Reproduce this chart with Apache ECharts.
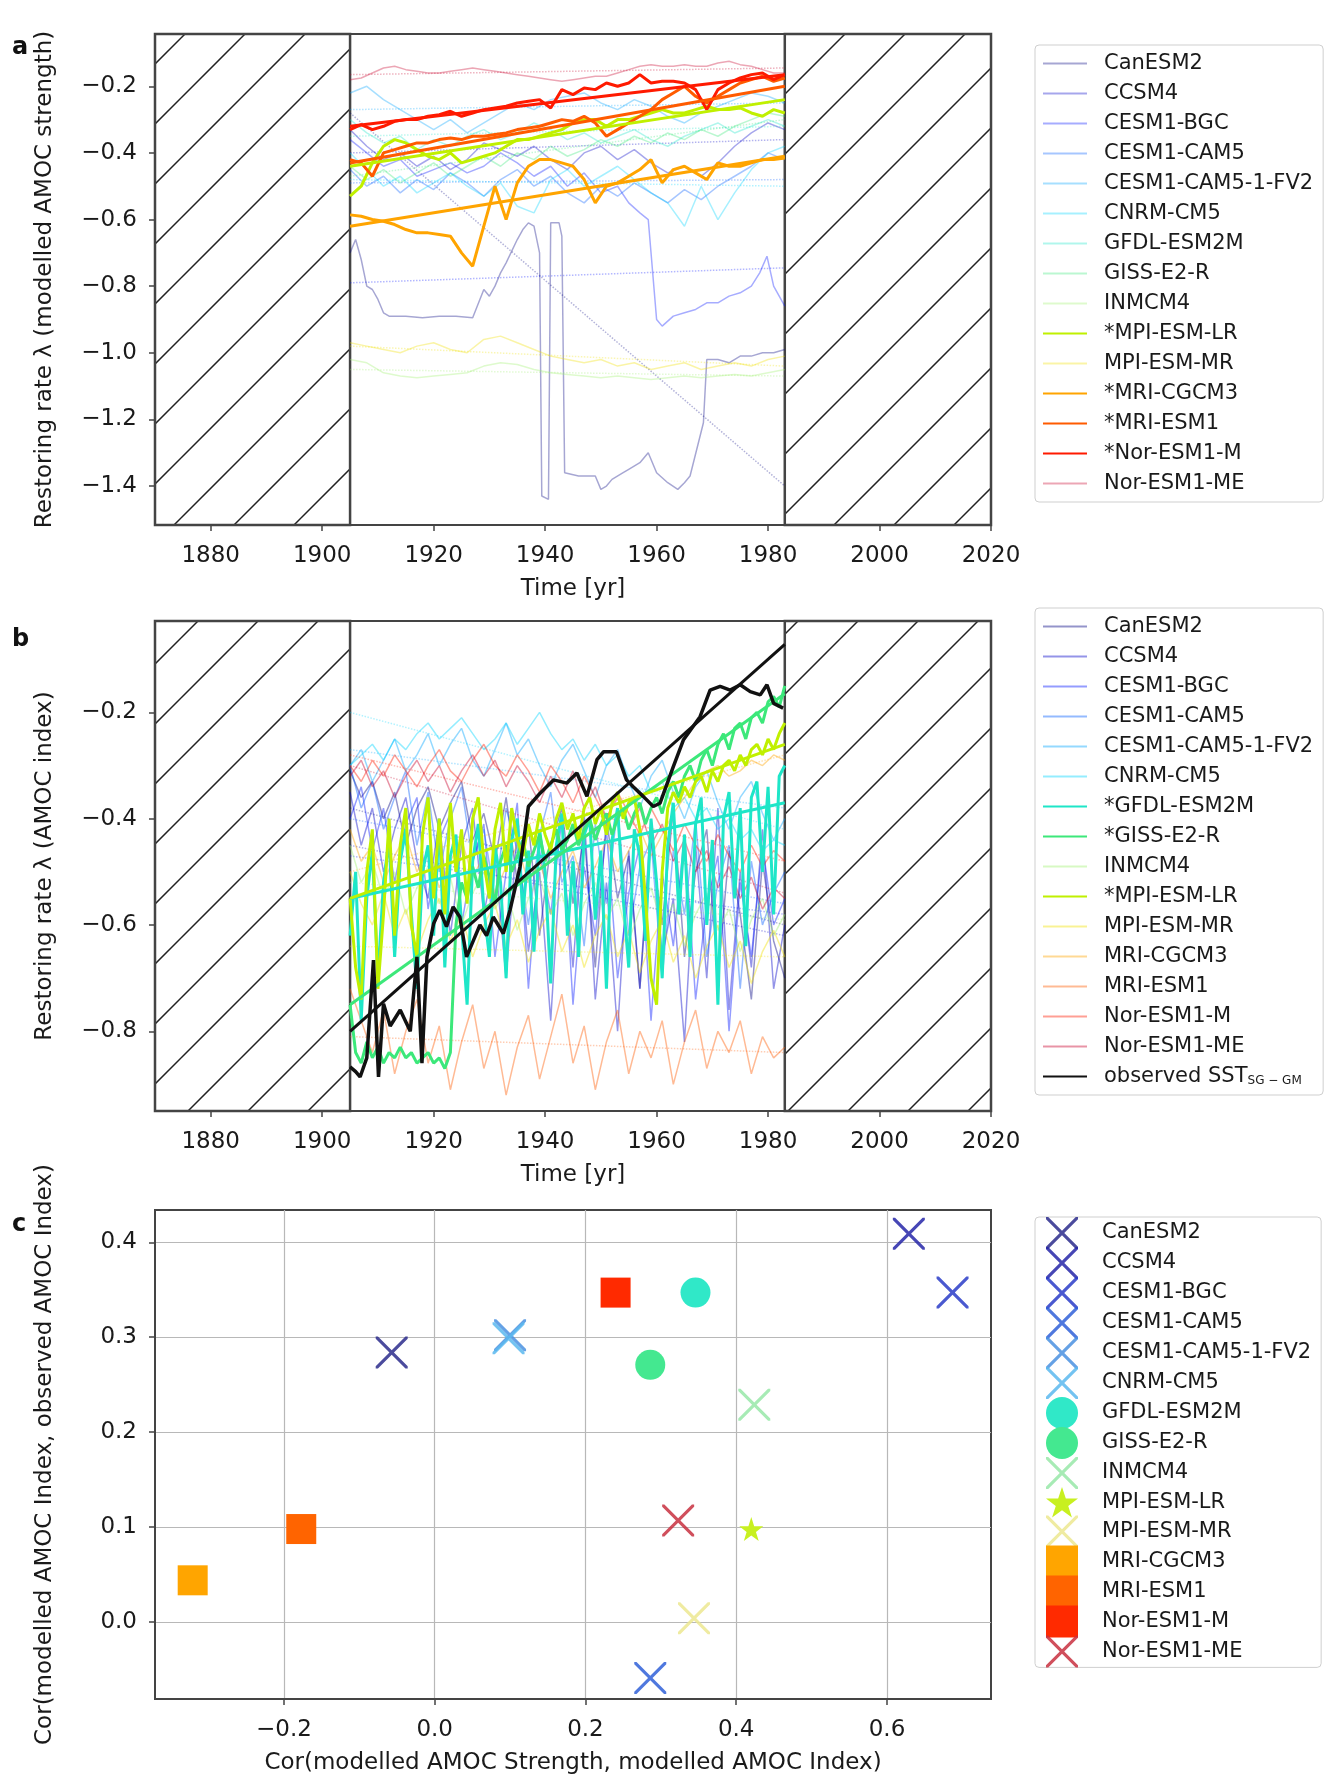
<!DOCTYPE html>
<html lang="en">
<head>
    <meta charset="UTF-8">
    <script src="https://cdn.jsdelivr.net/npm/echarts@6/dist/echarts.min.js"></script>
    <style>
        html, body { margin: 0; padding: 0; background: #fff; }
        #main { width: 1325px; height: 1775px; }
    </style>
    <title>Restoring rate</title>
</head>
<body>
    <div id="main"></div>
<script type="text/javascript">
    var models = ['CanESM2', 'CCSM4', 'CESM1-BGC', 'CESM1-CAM5', 'CESM1-CAM5-1-FV2', 'CNRM-CM5', 'GFDL-ESM2M',
        'GISS-E2-R', 'INMCM4', 'MPI-ESM-LR', 'MPI-ESM-MR', 'MRI-CGCM3', 'MRI-ESM1', 'Nor-ESM1-M', 'Nor-ESM1-ME'];
    var lineColors = ['#000080', '#0000c8', '#0012ff', '#005bff', '#00a4ff', '#00d4ff', '#1ee6c8', '#3ce87a',
        '#a0f070', '#c0f000', '#f0e000', '#ffa400', '#ff5b00', '#ff1a00', '#c8002a'];
    var markColors = ['#2c2c8c', '#2626a8', '#2a3cc8', '#3060d8', '#4a90e0', '#5ab8ee', '#30e8c8', '#44e890',
        '#98e8a8', '#c8f020', '#ece890', '#ffa500', '#ff6400', '#ff2a00', '#c83040'];
    var starredA = [9, 11, 12, 13];
    var starredB = [6, 7, 9];

    // tick labels
    var yearTicks = [1880, 1900, 1920, 1940, 1960, 1980, 2000, 2020];
    var yTicksA = [-1.4, -1.2, -1.0, -0.8, -0.6, -0.4, -0.2];
    var yTicksB = [-0.8, -0.6, -0.4, -0.2];
    var xTicksC = [-0.2, 0.0, 0.2, 0.4, 0.6];
    var yTicksC = [0.0, 0.1, 0.2, 0.3, 0.4];

    // sampling years
    var yrs1 = [1905,1906,1907,1908,1909,1910,1911,1912,1913,1914,1915,1916,1917,1918,1919,1920,1921,1922,1923,1924,
        1925,1926,1927,1928,1929,1930,1931,1932,1933,1934,1935,1936,1937,1938,1939,1940,1941,1942,1943,1944,
        1945,1946,1947,1948,1949,1950,1951,1952,1953,1954,1955,1956,1957,1958,1959,1960,1961,1962,1963,1964,
        1965,1966,1967,1968,1969,1970,1971,1972,1973,1974,1975,1976,1977,1978,1979,1980,1981,1982,1983];
    var yrs2 = [1905,1907,1909,1911,1913,1915,1917,1919,1921,1923,1925,1927,1929,1931,1933,1935,1937,1939,1941,1943,
        1945,1947,1949,1951,1953,1955,1957,1959,1961,1963,1965,1967,1969,1971,1973,1975,1977,1979,1981,1983];
    var yrs3 = [1905,1908,1911,1914,1917,1920,1923,1926,1929,1932,1935,1938,1941,1944,1947,1950,1953,1956,1959,
        1962,1965,1968,1971,1974,1977,1980,1983];
    var fitYears = [1905, 1983];

    // panel a: restoring rate of modelled AMOC strength
    var canYrsA = [1905,1906,1907,1908,1909,1910,1911,1912,1915,1918,1921,1924,1927,1929,1930,1931,1932,1933,1935,1936,
        1937,1938,1939,1939.4,1940.6,1941,1942.5,1943,1943.5,1946,1948,1949,1950,1951,1952,1954,1955,1957,1958.5,1960,
        1962,1963.8,1965,1966,1967.5,1968.4,1969,1971,1973,1975,1977,1979,1981,1983];
    var canA = [-0.70,-0.66,-0.72,-0.80,-0.81,-0.84,-0.88,-0.89,-0.89,-0.895,-0.89,-0.89,-0.895,-0.81,-0.83,-0.80,-0.76,-0.73,-0.66,-0.63,
        -0.61,-0.62,-0.70,-1.43,-1.44,-0.61,-0.61,-0.65,-1.36,-1.37,-1.37,-1.37,-1.41,-1.40,-1.38,-1.36,-1.35,-1.33,-1.30,-1.36,
        -1.39,-1.41,-1.39,-1.37,-1.27,-1.21,-1.02,-1.02,-1.03,-1.01,-1.01,-1.00,-1.00,-0.99];
    var bgcYrsA = [1905,1908,1911,1914,1917,1920,1923,1926,1929,1932,1935,1938,1941,1944,1947,1950,1953,1955,1957,1958.5,
        1960,1961,1963,1965,1967,1969,1971,1973,1975,1977,1978.5,1979.8,1981,1983];
    var bgcA = [-0.36,-0.40,-0.44,-0.42,-0.47,-0.45,-0.43,-0.46,-0.44,-0.40,-0.43,-0.47,-0.44,-0.50,-0.46,-0.52,-0.50,-0.55,-0.58,-0.60,
        -0.90,-0.92,-0.89,-0.88,-0.87,-0.85,-0.85,-0.83,-0.82,-0.80,-0.76,-0.71,-0.80,-0.86];
    var ccsmA = [-0.33,-0.38,-0.42,-0.40,-0.44,-0.41,-0.45,-0.42,-0.37,-0.39,-0.41,-0.38,-0.42,-0.45,-0.40,-0.38,-0.42,-0.39,-0.43,-0.46,-0.44,-0.47,-0.43,-0.38,-0.34,-0.31,-0.33];
    var cam5A = [-0.45,-0.50,-0.47,-0.52,-0.48,-0.51,-0.46,-0.49,-0.53,-0.48,-0.45,-0.50,-0.47,-0.52,-0.55,-0.50,-0.53,-0.49,-0.52,-0.55,-0.51,-0.54,-0.50,-0.47,-0.44,-0.40,-0.42];
    var fv2A = [-0.22,-0.20,-0.24,-0.27,-0.30,-0.33,-0.30,-0.34,-0.31,-0.28,-0.25,-0.27,-0.24,-0.23,-0.22,-0.25,-0.27,-0.24,-0.26,-0.29,-0.31,-0.28,-0.26,-0.24,-0.22,-0.23,-0.25];
    var cnrmA = [-0.40,-0.45,-0.50,-0.47,-0.52,-0.49,-0.46,-0.50,-0.53,-0.49,-0.56,-0.58,-0.48,-0.45,-0.50,-0.47,-0.44,-0.48,-0.52,-0.55,-0.62,-0.50,-0.60,-0.52,-0.45,-0.40,-0.38];
    var gfdlA = [-0.30,-0.34,-0.37,-0.35,-0.39,-0.36,-0.38,-0.35,-0.33,-0.36,-0.34,-0.31,-0.33,-0.36,-0.34,-0.37,-0.35,-0.33,-0.36,-0.38,-0.35,-0.33,-0.31,-0.34,-0.32,-0.30,-0.32];
    var gissA = [-0.44,-0.48,-0.45,-0.49,-0.46,-0.43,-0.47,-0.44,-0.41,-0.44,-0.40,-0.42,-0.38,-0.41,-0.39,-0.36,-0.38,-0.35,-0.37,-0.34,-0.36,-0.33,-0.35,-0.32,-0.30,-0.28,-0.29];
    var inmA = [-1.02,-1.03,-1.06,-1.07,-1.075,-1.07,-1.065,-1.06,-1.04,-1.03,-1.035,-1.05,-1.06,-1.065,-1.07,-1.075,-1.07,-1.075,-1.08,-1.075,-1.07,-1.075,-1.07,-1.065,-1.07,-1.06,-1.05];
    var mprA = [-0.97,-0.98,-0.99,-1.00,-0.98,-0.97,-0.99,-1.00,-0.96,-0.95,-0.97,-0.99,-1.01,-1.02,-1.03,-1.02,-1.04,-1.03,-1.05,-1.04,-1.03,-1.05,-1.04,-1.03,-1.04,-1.02,-1.01];
    var mplA = [-0.53,-0.50,-0.43,-0.38,-0.36,-0.37,-0.39,-0.41,-0.42,-0.40,-0.43,-0.42,-0.41,-0.40,-0.38,-0.36,-0.36,-0.35,-0.34,-0.33,
        -0.31,-0.30,-0.30,-0.32,-0.30,-0.30,-0.29,-0.28,-0.27,-0.28,-0.28,-0.27,-0.26,-0.27,-0.27,-0.265,-0.28,-0.29,-0.27,-0.28];
    var cgcmA = [-0.586,-0.59,-0.60,-0.605,-0.615,-0.63,-0.64,-0.64,-0.645,-0.65,-0.70,-0.74,-0.62,-0.50,-0.60,-0.49,-0.44,-0.42,-0.42,-0.43,
        -0.44,-0.48,-0.55,-0.50,-0.49,-0.47,-0.45,-0.42,-0.49,-0.45,-0.44,-0.46,-0.48,-0.43,-0.44,-0.44,-0.43,-0.42,-0.42,-0.415];
    var mriA = [-0.42,-0.43,-0.47,-0.40,-0.39,-0.38,-0.37,-0.37,-0.36,-0.355,-0.36,-0.35,-0.35,-0.345,-0.34,-0.33,-0.325,-0.32,-0.31,-0.30,
        -0.305,-0.29,-0.31,-0.35,-0.33,-0.31,-0.29,-0.27,-0.24,-0.22,-0.20,-0.23,-0.25,-0.23,-0.21,-0.19,-0.18,-0.17,-0.185,-0.175];
    var norA = [-0.33,-0.315,-0.33,-0.32,-0.305,-0.30,-0.30,-0.29,-0.285,-0.275,-0.29,-0.28,-0.27,-0.265,-0.26,-0.25,-0.245,-0.24,-0.265,-0.21,
        -0.225,-0.205,-0.21,-0.19,-0.20,-0.19,-0.165,-0.19,-0.185,-0.185,-0.19,-0.21,-0.27,-0.21,-0.19,-0.175,-0.165,-0.16,-0.18,-0.165];
    var normeA = [-0.18,-0.175,-0.16,-0.145,-0.14,-0.15,-0.155,-0.16,-0.16,-0.155,-0.15,-0.145,-0.15,-0.155,-0.16,-0.165,-0.17,-0.175,-0.18,-0.185,
        -0.18,-0.175,-0.17,-0.17,-0.16,-0.15,-0.14,-0.135,-0.14,-0.14,-0.135,-0.14,-0.14,-0.13,-0.125,-0.135,-0.14,-0.15,-0.16,-0.16];
    var fitA0 = [-0.28, -0.40, -0.79, -0.49, -0.27, -0.48, -0.35, -0.47, -1.05, -0.44, -0.98, -0.62, -0.43, -0.32, -0.165];
    var fitA1 = [-1.40, -0.36, -0.745, -0.48, -0.25, -0.50, -0.32, -0.30, -1.07, -0.24, -1.04, -0.41, -0.20, -0.165, -0.145];

    // panel b: restoring rate of AMOC index
    var canB = [-0.31,-0.36,-0.33,-0.40,-0.35,-0.45,-0.38,-0.34,-0.42,-0.37,-0.33,-0.44,-0.39,-0.48,-0.36,-0.52,-0.41,-0.62,-0.45,-0.38,
        -0.56,-0.43,-0.68,-0.40,-0.55,-0.47,-0.72,-0.44,-0.60,-0.38,-0.66,-0.50,-0.42,-0.70,-0.46,-0.58,-0.74,-0.48,-0.63,-0.70];
    var ccsmB = [-0.35,-0.45,-0.38,-0.50,-0.42,-0.36,-0.48,-0.55,-0.40,-0.62,-0.45,-0.38,-0.58,-0.47,-0.70,-0.42,-0.65,-0.50,-0.78,-0.44,
        -0.68,-0.39,-0.74,-0.52,-0.80,-0.46,-0.72,-0.40,-0.66,-0.55,-0.82,-0.45,-0.70,-0.38,-0.76,-0.50,-0.68,-0.42,-0.72,-0.60];
    var bgcB = [-0.40,-0.34,-0.46,-0.38,-0.52,-0.41,-0.36,-0.57,-0.44,-0.39,-0.60,-0.48,-0.41,-0.66,-0.50,-0.37,-0.72,-0.46,-0.58,-0.40,
        -0.75,-0.49,-0.62,-0.42,-0.70,-0.54,-0.45,-0.78,-0.50,-0.64,-0.43,-0.74,-0.56,-0.47,-0.80,-0.52,-0.66,-0.45,-0.60,-0.55];
    var cam5B = [-0.30,-0.38,-0.33,-0.42,-0.36,-0.31,-0.45,-0.35,-0.50,-0.40,-0.34,-0.48,-0.42,-0.55,-0.38,-0.46,-0.60,-0.43,-0.35,-0.52,
        -0.47,-0.64,-0.41,-0.56,-0.38,-0.62,-0.49,-0.44,-0.70,-0.46,-0.58,-0.40,-0.66,-0.52,-0.45,-0.72,-0.48,-0.60,-0.54,-0.50];
    var fv2B = [-0.30,-0.27,-0.33,-0.29,-0.25,-0.31,-0.28,-0.24,-0.30,-0.26,-0.23,-0.29,-0.32,-0.27,-0.22,-0.28,-0.25,-0.30,-0.34,-0.29,
        -0.26,-0.31,-0.36,-0.30,-0.27,-0.33,-0.38,-0.32,-0.29,-0.35,-0.40,-0.34,-0.31,-0.37,-0.42,-0.36,-0.33,-0.39,-0.44,-0.40];
    var cnrmB = [-0.30,-0.28,-0.26,-0.29,-0.25,-0.27,-0.24,-0.22,-0.25,-0.23,-0.21,-0.24,-0.27,-0.25,-0.22,-0.26,-0.23,-0.20,-0.24,-0.27,
        -0.25,-0.29,-0.26,-0.30,-0.28,-0.32,-0.30,-0.35,-0.33,-0.38,-0.36,-0.40,-0.38,-0.42,-0.40,-0.44,-0.42,-0.46,-0.44,-0.45];
    var gfdlB = [-0.62,-0.50,-0.78,-0.55,-0.46,-0.70,-0.52,-0.44,-0.66,-0.48,
        -0.42,-0.58,-0.72,-0.50,-0.45,-0.62,-0.40,-0.68,-0.47,-0.43,
        -0.60,-0.75,-0.48,-0.41,-0.57,-0.66,-0.45,-0.52,-0.70,-0.44,
        -0.40,-0.58,-0.46,-0.65,-0.42,-0.50,-0.71,-0.45,-0.39,-0.62,
        -0.48,-0.66,-0.43,-0.40,-0.59,-0.46,-0.72,-0.44,-0.38,-0.55,
        -0.68,-0.42,-0.47,-0.63,-0.40,-0.52,-0.70,-0.45,-0.37,-0.58,
        -0.43,-0.66,-0.41,-0.36,-0.60,-0.44,-0.75,-0.40,-0.35,-0.55,
        -0.38,-0.64,-0.36,-0.33,-0.50,-0.34,-0.58,-0.32,-0.30];
    var gissB = [-0.75,-0.84,-0.86,-0.82,-0.85,-0.83,-0.86,-0.84,-0.85,-0.83,
        -0.85,-0.84,-0.86,-0.85,-0.84,-0.86,-0.85,-0.87,-0.84,-0.60,
        -0.52,-0.55,-0.49,-0.53,-0.47,-0.51,-0.56,-0.48,-0.45,-0.50,
        -0.47,-0.44,-0.49,-0.46,-0.43,-0.48,-0.45,-0.42,-0.46,-0.44,
        -0.41,-0.45,-0.42,-0.40,-0.44,-0.41,-0.39,-0.43,-0.40,-0.38,
        -0.42,-0.39,-0.37,-0.41,-0.38,-0.36,-0.39,-0.35,-0.33,-0.36,
        -0.32,-0.30,-0.33,-0.29,-0.27,-0.30,-0.26,-0.24,-0.27,-0.23,
        -0.22,-0.25,-0.21,-0.20,-0.22,-0.18,-0.17,-0.19,-0.15];
    var inmB = [-0.45,-0.52,-0.48,-0.55,-0.50,-0.58,-0.53,-0.49,-0.56,-0.51,-0.60,-0.54,-0.50,-0.57,-0.53,-0.61,-0.55,-0.51,-0.58,-0.54,
        -0.62,-0.56,-0.52,-0.59,-0.55,-0.63,-0.57,-0.53,-0.60,-0.56,-0.64,-0.58,-0.54,-0.61,-0.57,-0.65,-0.59,-0.55,-0.62,-0.58];
    var mplB = [-0.55,-0.68,-0.74,-0.50,-0.42,-0.72,-0.58,-0.40,-0.62,-0.45,
        -0.38,-0.60,-0.66,-0.43,-0.36,-0.55,-0.40,-0.58,-0.37,-0.50,
        -0.42,-0.56,-0.40,-0.36,-0.48,-0.55,-0.42,-0.37,-0.50,-0.38,
        -0.44,-0.47,-0.41,-0.45,-0.39,-0.43,-0.46,-0.40,-0.37,-0.42,
        -0.39,-0.44,-0.38,-0.36,-0.41,-0.38,-0.43,-0.37,-0.35,-0.40,
        -0.37,-0.36,-0.42,-0.55,-0.70,-0.75,-0.50,-0.38,-0.35,-0.37,
        -0.34,-0.36,-0.33,-0.32,-0.35,-0.31,-0.33,-0.30,-0.29,-0.31,
        -0.28,-0.30,-0.27,-0.26,-0.28,-0.25,-0.27,-0.24,-0.22];
    var mprB = [-0.50,-0.56,-0.60,-0.54,-0.62,-0.57,-0.65,-0.59,-0.55,-0.63,-0.58,-0.66,-0.60,-0.56,-0.64,-0.59,-0.67,-0.61,-0.57,-0.65,
        -0.60,-0.68,-0.62,-0.58,-0.66,-0.61,-0.69,-0.63,-0.59,-0.67,-0.62,-0.70,-0.64,-0.60,-0.68,-0.63,-0.71,-0.65,-0.61,-0.66];
    var cgcmB = [-0.42,-0.48,-0.45,-0.52,-0.47,-0.43,-0.50,-0.46,-0.53,-0.48,-0.44,-0.51,-0.47,-0.54,-0.49,-0.45,-0.52,-0.48,-0.55,-0.50,
        -0.46,-0.53,-0.49,-0.44,-0.50,-0.46,-0.42,-0.47,-0.43,-0.39,-0.36,-0.33,-0.31,-0.30,-0.32,-0.31,-0.29,-0.30,-0.28,-0.29];
    var mriB = [-0.72,-0.78,-0.84,-0.76,-0.88,-0.80,-0.74,-0.86,-0.79,-0.91,-0.82,-0.75,-0.87,-0.80,-0.92,-0.83,-0.77,-0.89,-0.81,-0.73,
        -0.86,-0.79,-0.91,-0.82,-0.76,-0.88,-0.80,-0.85,-0.78,-0.90,-0.82,-0.76,-0.87,-0.80,-0.84,-0.78,-0.88,-0.81,-0.85,-0.83];
    var norB = [-0.30,-0.33,-0.29,-0.32,-0.28,-0.31,-0.34,-0.30,-0.27,-0.31,-0.33,-0.29,-0.26,-0.30,-0.32,-0.28,-0.31,-0.35,-0.30,-0.33,
        -0.37,-0.32,-0.36,-0.40,-0.35,-0.39,-0.43,-0.38,-0.42,-0.46,-0.41,-0.45,-0.48,-0.43,-0.47,-0.50,-0.45,-0.49,-0.46,-0.48];
    var normeB = [-0.32,-0.29,-0.34,-0.31,-0.36,-0.32,-0.29,-0.33,-0.30,-0.35,-0.31,-0.28,-0.32,-0.29,-0.34,-0.30,-0.33,-0.37,-0.32,-0.36,
        -0.31,-0.38,-0.34,-0.40,-0.36,-0.42,-0.38,-0.45,-0.41,-0.48,-0.44,-0.50,-0.46,-0.53,-0.49,-0.55,-0.51,-0.57,-0.53,-0.55];
    var fitB0 = [-0.38, -0.45, -0.47, -0.40, -0.27, -0.20, -0.55, -0.75, -0.52, -0.55, -0.64, -0.50, -0.81, -0.28, -0.30];
    var fitB1 = [-0.60, -0.62, -0.58, -0.56, -0.38, -0.42, -0.37, -0.165, -0.59, -0.26, -0.66, -0.28, -0.84, -0.48, -0.54];

    var obsYrs = [1905,1906,1906.8,1908,1909.2,1910.1,1911,1912.2,1914,1915.8,1917,1917.9,1918.8,1920,1921.1,1922.3,1923.5,1924.7,
        1925.9,1927.1,1928.3,1929.5,1930.7,1932.5,1933.7,1935.5,1937,1939.1,1941.5,1943.9,1945.7,1947.5,1949.3,1950.5,1952.8,
        1954.6,1955.8,1957.6,1959.4,1960.6,1963,1964.8,1967.8,1969.6,1971.4,1973.2,1975,1976.8,1978.6,1979.8,1981,1982.7];
    var obsVals = [-0.867,-0.876,-0.886,-0.85,-0.666,-0.886,-0.748,-0.79,-0.76,-0.80,-0.66,-0.86,-0.66,-0.597,-0.572,-0.603,-0.566,-0.585,
        -0.66,-0.63,-0.60,-0.62,-0.585,-0.616,-0.572,-0.49,-0.377,-0.352,-0.327,-0.333,-0.314,-0.358,-0.289,-0.274,-0.274,
        -0.327,-0.34,-0.358,-0.377,-0.371,-0.302,-0.252,-0.208,-0.158,-0.151,-0.158,-0.148,-0.161,-0.167,-0.148,-0.183,-0.192];
    var obsFit = [-0.80, -0.072];

    // panel c: correlations
    var corrX = [-0.057, 0.629, 0.687, 0.286, 0.100, 0.098, 0.346, 0.286, 0.424, 0.420, 0.344, -0.321, -0.177, 0.240, 0.323];
    var corrY = [0.284, 0.409, 0.347, -0.059, 0.302, 0.299, 0.347, 0.271, 0.229, 0.098, 0.004, 0.044, 0.098, 0.347, 0.107];

    var yearsA = [canYrsA, yrs3, bgcYrsA, yrs3, yrs3, yrs3, yrs3, yrs3, yrs3, yrs2, yrs3, yrs2, yrs2, yrs2, yrs2];
    var valuesA = [canA, ccsmA, bgcA, cam5A, fv2A, cnrmA, gfdlA, gissA, inmA, mplA, mprA, cgcmA, mriA, norA, normeA];
    var yearsB = [yrs2, yrs2, yrs2, yrs2, yrs2, yrs2, yrs1, yrs1, yrs2, yrs1, yrs2, yrs2, yrs2, yrs2, yrs2];
    var valuesB = [canB, ccsmB, bgcB, cam5B, fv2B, cnrmB, gfdlB, gissB, inmB, mplB, mprB, cgcmB, mriB, norB, normeB];

    var font = 'DejaVu Sans';
    var textColor = '#1a1a1a';
    var frameColor = '#444';
    var xPath = 'path://M0,0L1.4,0L10,8.6L18.6,0L20,0L20,1.4L11.4,10L20,18.6L20,20L18.6,20L10,11.4L1.4,20L0,20L0,18.6L8.6,10L0,1.4Z';
    var starPath = 'path://M10,0L12.4,7.2L20,7.2L13.9,11.8L16.2,19L10,14.6L3.8,19L6.1,11.8L0,7.2L7.6,7.2Z';

    function pairs(xs, ys) {
        return xs.map(function (x, i) { return [x, ys[i]]; });
    }

    function hatchTile() {
        var c = document.createElement('canvas');
        c.width = 60;
        c.height = 60;
        var g = c.getContext('2d');
        g.strokeStyle = '#222';
        g.lineWidth = 1.5;
        g.beginPath();
        g.moveTo(-2, 41); g.lineTo(41, -2);
        g.moveTo(37, 62); g.lineTo(62, 37);
        g.stroke();
        return c;
    }

    var hatch = { image: hatchTile(), repeat: 'repeat' };

    function minusFmt(v) {
        return v.toFixed(1).replace('-', '\u2212');
    }

    function yearFmt(v) {
        return String(v);
    }

    function timeAxis(gi) {
        return {
            type: 'value', gridIndex: gi, min: 1870, max: 2020,
            name: 'Time [yr]', nameLocation: 'middle', nameGap: 53,
            nameTextStyle: { fontSize: 23, color: textColor, fontFamily: font },
            axisLine: { show: true, onZero: false, lineStyle: { color: frameColor, width: 2 } },
            axisTick: { show: true, length: 6, customValues: yearTicks, lineStyle: { color: frameColor, width: 1.5 } },
            axisLabel: { customValues: yearTicks, fontSize: 23, color: textColor, fontFamily: font, margin: 20, formatter: yearFmt },
            splitLine: { show: false }
        };
    }

    function valueAxis(gi, min, max, ticks, name, nameGap, margin, grid) {
        return {
            type: 'value', gridIndex: gi, min: min, max: max,
            name: name, nameLocation: 'middle', nameGap: nameGap,
            nameTextStyle: { fontSize: 23, color: textColor, fontFamily: font },
            axisLine: { show: true, onZero: false, lineStyle: { color: frameColor, width: 2 } },
            axisTick: { show: true, length: 6, customValues: ticks, lineStyle: { color: frameColor, width: 1.5 } },
            axisLabel: { customValues: ticks, fontSize: 23, color: textColor, fontFamily: font, margin: margin, formatter: minusFmt },
            splitLine: { show: !!grid, lineStyle: { color: '#b8b8b8', width: 1.2 } }
        };
    }

    function panelSeries(gi, suffix, years, values, fit0, fit1, starred, faintAlpha) {
        var faint = [], bold = [];
        models.forEach(function (m, i) {
            var isStar = starred.indexOf(i) >= 0;
            var name = (isStar ? '*' : '') + m + suffix;
            var line = {
                type: 'line', name: name, xAxisIndex: gi, yAxisIndex: gi,
                data: pairs(years[i], values[i]), symbol: 'none', silent: true,
                lineStyle: { color: lineColors[i], width: isStar ? 3 : 1.5, opacity: isStar ? 1 : faintAlpha },
                itemStyle: { color: lineColors[i] }, z: isStar ? 4 : 2
            };
            var fit = {
                type: 'line', name: 'fit ' + name, xAxisIndex: gi, yAxisIndex: gi,
                data: pairs(fitYears, [fit0[i], fit1[i]]), symbol: 'none', silent: true,
                lineStyle: { color: lineColors[i], width: isStar ? 3 : 1.5, opacity: isStar ? 1 : 0.3, type: isStar ? 'solid' : 'dotted' },
                z: isStar ? 5 : 2
            };
            if (isStar) { bold.push(line, fit); } else { faint.push(line, fit); }
        });
        faint[0].markArea = {
            silent: true,
            itemStyle: { color: hatch, borderColor: frameColor, borderWidth: 2.5 },
            data: [[{ xAxis: 1870 }, { xAxis: 1905 }], [{ xAxis: 1983 }, { xAxis: 2020 }]]
        };
        return faint.concat(bold);
    }

    function legendNames(suffix, starred) {
        return models.map(function (m, i) { return (starred.indexOf(i) >= 0 ? '*' : '') + m + suffix; });
    }

    var series = [];
    series = series.concat(panelSeries(0, '', yearsA, valuesA, fitA0, fitA1, starredA, 0.35));
    series = series.concat(panelSeries(1, '\u200b', yearsB, valuesB, fitB0, fitB1, starredB, 0.42));
    series.push({
        type: 'line', name: 'observed SST', xAxisIndex: 1, yAxisIndex: 1,
        data: pairs(obsYrs, obsVals), symbol: 'none', silent: true,
        lineStyle: { color: '#111', width: 3.5 }, itemStyle: { color: '#111' }, z: 6
    });
    series.push({
        type: 'line', name: 'fit observed', xAxisIndex: 1, yAxisIndex: 1,
        data: pairs(fitYears, obsFit), symbol: 'none', silent: true,
        lineStyle: { color: '#111', width: 3 }, z: 6
    });
    models.forEach(function (m, i) {
        var sym = xPath, size = 32;
        if (i === 6 || i === 7) { sym = 'circle'; size = 30; }
        if (i === 9) { sym = starPath; size = 24; }
        if (i >= 11 && i <= 13) { sym = 'rect'; size = 30; }
        series.push({
            type: 'scatter', name: m + '\u200b\u200b', xAxisIndex: 2, yAxisIndex: 2,
            data: [[corrX[i], corrY[i]]], symbol: sym, symbolSize: size, silent: true,
            itemStyle: { color: markColors[i], opacity: sym === xPath ? 0.85 : 1 }, z: 3
        });
    });

    function legendBox(top, names, extra) {
        var lg = {
            left: 1035, top: top, orient: 'vertical', selectedMode: false,
            data: names, padding: [8, 10, 8, 7],
            itemWidth: 44, itemHeight: 20, itemGap: 9,
            itemStyle: { opacity: 0 },
            borderColor: '#cfcfcf', borderWidth: 1, borderRadius: 4, backgroundColor: '#fff',
            formatter: function (name) {
                var n = name.replace(/\u200b/g, '');
                if (n === 'observed SST') { return 'observed SST{sub|SG \u2212 GM}'; }
                return n;
            },
            textStyle: {
                fontSize: 21, lineHeight: 20, color: textColor, fontFamily: font, padding: [0, 0, 0, 12],
                rich: { sub: { fontSize: 12, fontFamily: font, color: textColor, padding: [9, 0, 0, 0] } }
            }
        };
        for (var k in extra) { lg[k] = extra[k]; }
        return lg;
    }

    var chart = echarts.init(document.getElementById('main'), null, { renderer: 'canvas' });
    var option = {
        animation: false,
        backgroundColor: '#fff',
        textStyle: { fontFamily: font },
        grid: [
            { left: 155, top: 34, width: 836, height: 491, show: true, borderColor: frameColor, borderWidth: 2, containLabel: false, outerBoundsMode: 'none' },
            { left: 155, top: 621, width: 836, height: 490, show: true, borderColor: frameColor, borderWidth: 2, containLabel: false, outerBoundsMode: 'none' },
            { left: 155, top: 1210, width: 836, height: 489, show: true, borderColor: frameColor, borderWidth: 2, containLabel: false, outerBoundsMode: 'none' }
        ],
        xAxis: [
            timeAxis(0),
            timeAxis(1),
            valueAxis(2, -0.371, 0.738, xTicksC, 'Cor(modelled AMOC Strength, modelled AMOC Index)', 53, 20, true)
        ],
        yAxis: [
            valueAxis(0, -1.517, -0.043, yTicksA, 'Restoring rate \u03bb (modelled AMOC strength)', 98, 18, false),
            valueAxis(1, -0.95, -0.028, yTicksB, 'Restoring rate \u03bb (AMOC index)', 98, 18, false),
            valueAxis(2, -0.081, 0.434, yTicksC, 'Cor(modelled AMOC Index, observed AMOC Index)', 98, 18, true)
        ],
        legend: [
            legendBox(45, legendNames('', starredA), {}),
            legendBox(608, legendNames('\u200b', starredB).concat(['observed SST']), {}),
            legendBox(1217, models.map(function (m) { return m + '\u200b\u200b'; }),
                { itemWidth: 32, itemHeight: 32, itemGap: -2, padding: [0, 10, 0, 11], itemStyle: {},
                  textStyle: { fontSize: 21, lineHeight: 20, color: textColor, fontFamily: font, padding: [0, 0, 0, 19] } })
        ],
        graphic: [
            { type: 'text', left: 12, top: 36, style: { text: 'a', font: 'bold 24px "DejaVu Sans"', fill: '#111' } },
            { type: 'text', left: 12, top: 628, style: { text: 'b', font: 'bold 24px "DejaVu Sans"', fill: '#111' } },
            { type: 'text', left: 12, top: 1213, style: { text: 'c', font: 'bold 24px "DejaVu Sans"', fill: '#111' } }
        ],
        series: series
    };
    option && chart.setOption(option);
</script>
</body>
</html>
